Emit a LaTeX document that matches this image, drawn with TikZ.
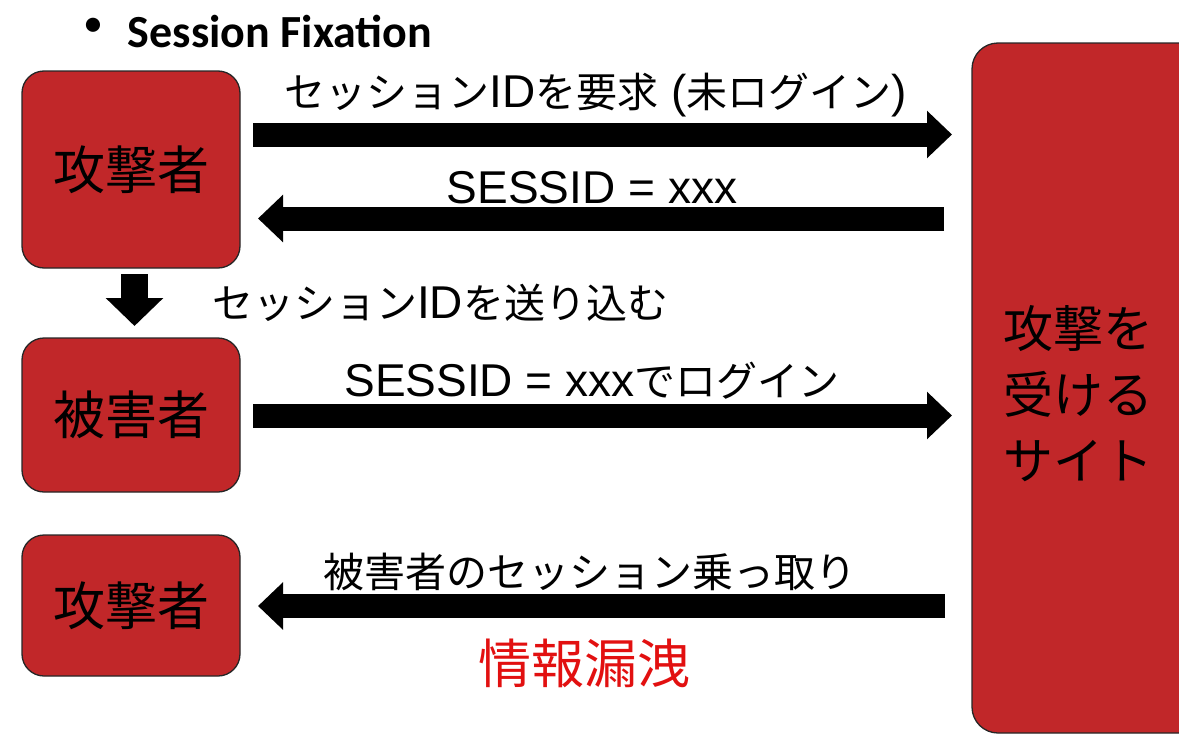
\documentclass[tikz,border=0pt]{standalone}
\usepackage{fontspec}
\setmainfont{Liberation Sans}
\newfontfamily\jpfont{Noto Sans CJK JP}
\newfontfamily\calfont{Carlito}
\usetikzlibrary{arrows.meta}
\definecolor{boxred}{RGB}{193,39,41}
\definecolor{infored}{RGB}{226,16,16}
\newcommand\JP[1]{{\jpfont\fontsize{41}{48}\selectfont #1}}
\newcommand\LT[1]{{\fontsize{46}{50}\selectfont #1}}
\begin{document}
\begin{tikzpicture}[x=1pt,y=-1pt,
  box/.style={draw=black!85, line width=1.3pt, fill=boxred, rounded corners=22pt,
    minimum width=218pt, inner sep=0pt, outer sep=0pt,
    font=\jpfont\fontsize{52}{60}\selectfont},
  fat/.style={line width=24pt, -{Triangle[width=46pt,length=25pt]}},
  lbl/.style={inner sep=0pt, anchor=center}]
\useasboundingbox (0,0) rectangle (1179,736);
\clip (0,0) rectangle (1179,736);

% title
\node[lbl] (bul) at (93,27) {\calfont\fontsize{40}{44}\selectfont •};
\node[lbl] (title) at (280,31) {\calfont\bfseries\fontsize{46}{50}\selectfont Session Fixation};

% boxes
\node[box, minimum height=197pt] (att1) at (131,169.5) {攻撃者};
\node[box, minimum height=154pt] (vic) at (131,415) {被害者};
\node[box, minimum height=141pt] (att2) at (131,605.5) {攻撃者};
\node[box, rounded corners=26pt, minimum width=238pt, minimum height=690pt] (site) at (1091,388) {};
\node[lbl, align=center, font=\jpfont\fontsize{50}{66}\selectfont] (sitelbl) at (1078,394) {攻撃を\\受ける\\サイト};

% arrows
\draw[fat, shorten <=13pt, shorten >=20pt] (att1.east |- 0,134.5) -- (site.west |- 0,134.5);
\draw[fat, shorten <=28pt, shorten >=18pt] (site.west |- 0,218.5) -- (att1.east |- 0,218.5);
\draw[line width=27pt, -{Triangle[width=56pt,length=28pt]}, shorten <=6pt, shorten >=12pt]
  ([xshift=3.5pt]att1.south) -- ([xshift=3.5pt]vic.north);
\draw[fat, shorten <=13pt, shorten >=20pt] (vic.east |- 0,415.5) -- (site.west |- 0,415.5);
\draw[fat, shorten <=27pt, shorten >=18pt] (site.west |- 0,606) -- (att2.east |- 0,606);

% labels
\node[lbl] (l1) at (596,95) {\JP{セッション}\LT{ID}\JP{を要求}\LT{ (}\JP{未ログイン}\LT{)}};
\node[lbl] (l2) at (592,188) {\LT{SESSID = xxx}};
\node[lbl] (l3) at (440,303) {\JP{セッション}\LT{ID}\JP{を送り込む}};
\node[lbl] (l4) at (592,381) {\LT{SESSID = xxx}\JP{でログイン}};
\node[lbl] (l5) at (590,572) {\JP{被害者のセッション乗っ取り}};
\node[lbl, text=infored, font=\jpfont\fontsize{53}{60}\selectfont] (info) at (584,663) {情報漏洩};
\end{tikzpicture}
\end{document}
